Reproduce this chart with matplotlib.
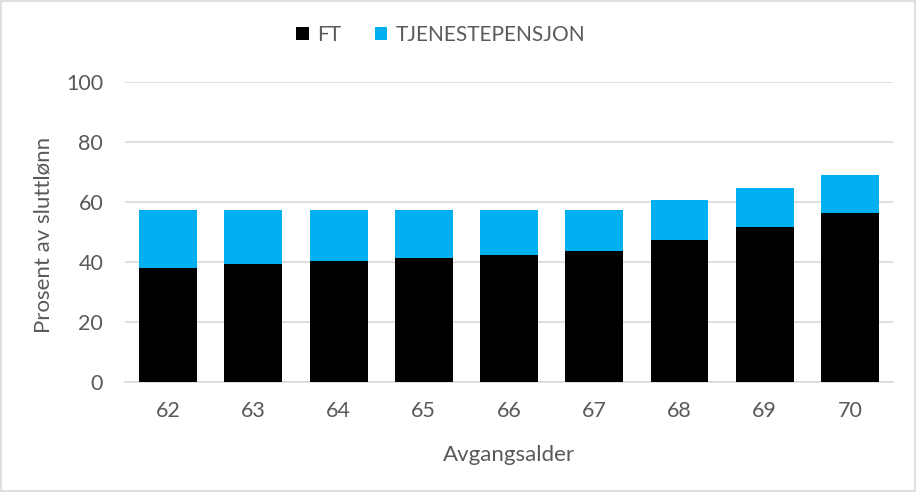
import matplotlib

matplotlib.use("Agg")
import matplotlib.pyplot as plt
from matplotlib.patches import Rectangle
import numpy as np

ages = ["62", "63", "64", "65", "66", "67", "68", "69", "70"]
ft = [38.0, 39.3, 40.3, 41.3, 42.3, 43.7, 47.3, 51.7, 56.3]
total = [57.2, 57.2, 57.2, 57.2, 57.2, 57.2, 60.6, 64.6, 68.9]
tjp = [t - f for t, f in zip(total, ft)]

FT_COLOR = "#000000"
TJP_COLOR = "#00b0f0"
TEXT = "#595959"
GRID = "#d9d9d9"

plt.rcParams["font.family"] = ["Lato", "DejaVu Sans"]

fig = plt.figure(figsize=(9.17, 4.92), dpi=100)
ax = fig.add_axes([0.1368, 0.2242, 0.8366, 0.6098])

x = np.arange(len(ages))
ax.bar(x, ft, width=0.68, color=FT_COLOR, label="FT", zorder=3)
ax.bar(x, tjp, width=0.68, bottom=ft, color=TJP_COLOR, label="TJENESTEPENSJON", zorder=3)

ax.set_xlim(-0.5, len(ages) - 0.5)
ax.set_ylim(0, 100)
ax.set_yticks([0, 20, 40, 60, 80, 100])
ax.set_xticks(x)
ax.set_xticklabels(ages)
ax.yaxis.grid(True, color=GRID, linewidth=1.2, zorder=0)
ax.tick_params(axis="both", length=0, labelsize=15.5, colors=TEXT)
ax.tick_params(axis="x", pad=14)
ax.tick_params(axis="y", pad=16)
for side in ("top", "right", "left"):
    ax.spines[side].set_visible(False)
ax.spines["bottom"].set_color(GRID)
ax.spines["bottom"].set_linewidth(1.2)

ax.set_xlabel("Avgangsalder", fontsize=16, color=TEXT, va="center")
ax.xaxis.set_label_coords(0.5, -0.244)
ax.set_ylabel("Prosent av sluttlønn", fontsize=16, color=TEXT, va="center")
ax.yaxis.set_label_coords(-0.107, 0.49)

ax.legend(loc="center", bbox_to_anchor=(0.411, 1.156), ncol=2, frameon=False,
          fontsize=15, labelcolor=TEXT, handlelength=0.6, handleheight=0.6,
          handletextpad=0.4, columnspacing=1.6)

fig.patches.append(Rectangle((0.001, 0.002), 0.997, 0.995, transform=fig.transFigure,
                             fill=False, edgecolor=GRID, linewidth=1.2))

fig.savefig("out.png", dpi=100)
